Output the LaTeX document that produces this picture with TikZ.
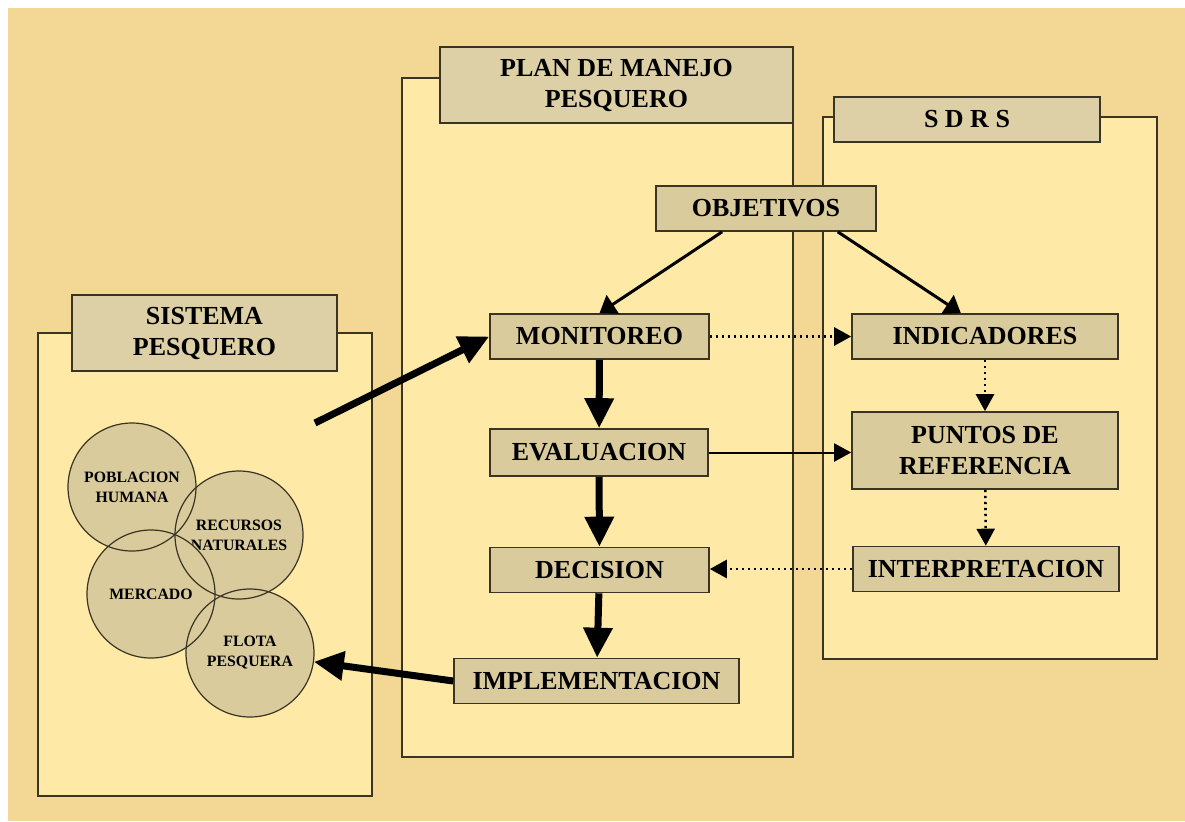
\documentclass[tikz,border=0pt]{standalone}
\usepackage{fontspec}
\setmainfont{Liberation Serif}
\usetikzlibrary{arrows.meta}
\definecolor{bgtan}{HTML}{F2D795}
\definecolor{panelfill}{HTML}{FFE9A6}
\definecolor{boxfill}{HTML}{D9CB9C}
\definecolor{titlefill}{HTML}{DDD0A6}
\definecolor{edge}{HTML}{3A3424}
\begin{document}
\begin{tikzpicture}
	[x=0.5pt,y=-0.5pt,
	panel/.style={draw=edge,fill=panelfill,line width=0.8pt},
	block/.style={draw=edge,fill=boxfill,line width=0.8pt,minimum width=#1*0.5pt,minimum height=22.5pt,inner sep=0pt,font=\fontsize{13}{15.5}\selectfont\bfseries,align=center},
	heading/.style={block=#1,fill=titlefill,minimum height=38pt},
	bubble/.style={circle,fill=boxfill,minimum size=64pt,inner sep=0pt,font=\fontsize{7.9}{10}\selectfont\bfseries,align=center},
	heavy/.style={-{Triangle[length=15pt,width=14pt]},line width=3.5pt},
	medium/.style={-{Triangle[length=8pt,width=11pt]},line width=1.5pt},
	light/.style={-{Triangle[length=8.5pt,width=9pt]},line width=1pt},
	dotline/.style={light,line width=1.3pt,dash pattern=on 1.2pt off 1.8pt}]
	\useasboundingbox (0,0) rectangle (1185,821);
	\fill[white] (0,0) rectangle (1185,821);
	\fill[bgtan] (8,8) rectangle (1185,821);
	% panels
	\draw[panel] (38,333) rectangle (372,796);
	\draw[panel] (402,78) rectangle (793,757);
	\draw[panel] (823,117) rectangle (1157,659);
	\node[heading=265,name=sis]at(204.5,333){SISTEMA\\PESQUERO};
	\node[heading=353,name=plan]at(616.5,85){PLAN DE MANEJO\\PESQUERO};
	\node[block=266,fill=titlefill,name=sdrs]at(967,119.5){S D R S};
	% sistema pesquero
	\node[bubble,name=pob]at(132,487){POBLACION\\HUMANA};
	\node[bubble,name=rec]at(239,535){RECURSOS\\NATURALES};
	\node[bubble,name=mer]at(151,594){MERCADO};
	\node[bubble,name=flo]at(250,653){FLOTA\\PESQUERA};
	\foreach \c in {pob,rec,mer,flo}
		\draw[edge,line width=0.6pt] (\c.center) circle[radius=32pt];
	\coordinate (sisout) at (315,423);
	% plan de manejo
	\node[block=220,name=obj]at(766,208.5){OBJETIVOS};
	\node[block=219,name=mon]at(599.5,336.5){MONITOREO};
	\node[block=218,minimum height=23.5pt,name=eva]at(599,452.5){EVALUACION};
	\node[block=219,name=dec]at(599.5,570){DECISION};
	\node[block=285,name=imp]at(596.5,681){IMPLEMENTACION};
	% sdrs
	\node[block=266,name=ind]at(985,336.5){INDICADORES};
	\node[block=266,minimum height=38.5pt,name=pun]at(985,450.5){PUNTOS DE\\REFERENCIA};
	\node[block=266,name=int]at(986,569){INTERPRETACION};
	\draw[medium] (obj.208) -- (mon.north);
	\draw[medium] (obj.342) -- (ind.136);
	\draw[heavy] (sisout) -- (mon.west);
	\draw[heavy] (mon) -- (eva);
	\draw[heavy] (eva) -- (dec);
	\draw[heavy] (dec) -- (imp);
	\draw[heavy] (imp.west) -- (flo);
	\draw[dotline] (mon) -- (ind);
	\draw[light] (eva.east) -- (eva.east -| pun.west);
	\draw[dotline] (ind) -- (pun);
	\draw[dotline] (pun) -- (int);
	\draw[dotline] (int) -- (int.west -| dec.east);
\end{tikzpicture}
\end{document}
